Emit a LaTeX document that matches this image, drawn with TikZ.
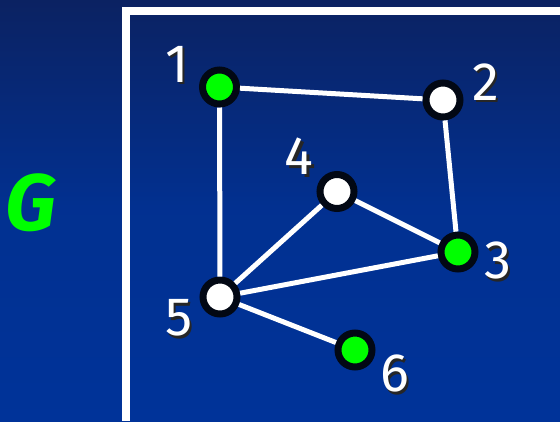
\documentclass[tikz,border=0pt]{standalone}
\usepackage{fontspec}
\usepackage{tikz}
\usepackage{xcolor}
\setmainfont{Fira Sans}
\usetikzlibrary{positioning}
\definecolor{BgTop}{HTML}{0B2262}
\definecolor{BgBottom}{HTML}{003399}
\definecolor{NodeGreen}{HTML}{00FF00}
\definecolor{RingDark}{HTML}{020814}
% digit with a soft drop shadow
\newcommand{\shadownum}[1]{\rlap{\kern2.5pt\raisebox{-2.5pt}{\color{black!85}#1}}#1}

\begin{document}
\begin{tikzpicture}[
    x=1pt, y=-1pt,
    vtx/.style={circle, minimum size=34pt, inner sep=0pt, draw=RingDark, line width=7pt},
    marked/.style={vtx, fill=NodeGreen},
    plain/.style={vtx, fill=white},
    edge/.style={white, line width=5pt},
    frame/.style={white, line width=8pt},
    num/.style={font=\fontsize{54}{54}\selectfont, text=white, inner sep=0pt}
]

% === Background ===
\useasboundingbox (0,0) rectangle (560,421);
\shade[top color=BgTop, bottom color=BgBottom, middle color=BgBottom!85!BgTop] (0,0) rectangle (560,421);

% Frame around the graph
\draw[frame] (560,11) -- (125.5,11) -- (125.5,421);

% === Graph name ===
\node[font=\fontsize{80}{80}\selectfont\itshape\bfseries, text=NodeGreen, inner sep=0pt] (gname) at (31,203) {G};

% === Vertices ===
\node[marked] (v1) at (219.5,87) {};
\node[plain]  (v2) at (443,100) {};
\node[marked] (v3) at (458,252) {};
\node[plain]  (v4) at (337,191.5) {};
\node[plain]  (v5) at (220,297) {};
\node[marked] (v6) at (355,350) {};

% === Edges ===
\draw[edge] (v1) -- (v2);
\draw[edge] (v1) -- (v5);
\draw[edge] (v2) -- (v3);
\draw[edge] (v4) -- (v3);
\draw[edge] (v4) -- (v5);
\draw[edge] (v5) -- (v3);
\draw[edge] (v5) -- (v6);

% === Vertex numbers ===
\node[num] (n1) at (177,65.5) {\shadownum{1}};
\node[num] (n2) at (485.5,83) {\shadownum{2}};
\node[num] (n3) at (497.5,262) {\shadownum{3}};
\node[num] (n4) at (299,157.5) {\shadownum{4}};
\node[num] (n5) at (179,319.5) {\shadownum{5}};
\node[num] (n6) at (394.5,375) {\shadownum{6}};
\end{tikzpicture}
\end{document}
